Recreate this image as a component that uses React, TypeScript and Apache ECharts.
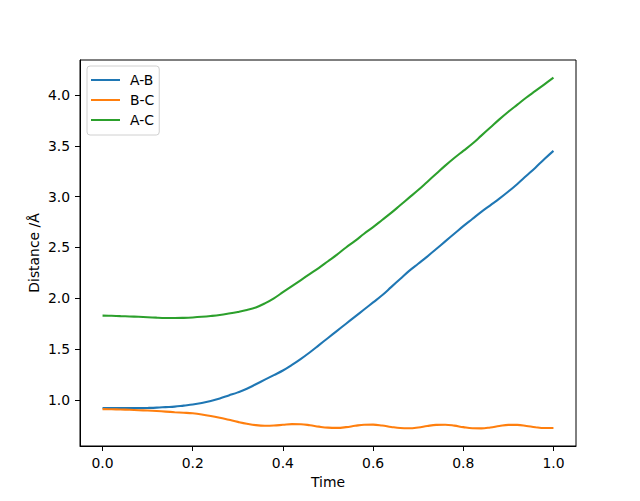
import React, { useEffect, useRef } from "react";
import * as echarts from "echarts";

const times = [
  0.0, 0.02, 0.04, 0.06, 0.08, 0.1, 0.12, 0.14, 0.16, 0.18, 0.2, 0.22, 0.24, 0.26, 0.28, 0.3, 0.32,
  0.34, 0.36, 0.38, 0.4, 0.42, 0.44, 0.46, 0.48, 0.5, 0.52, 0.54, 0.56, 0.58, 0.6, 0.62, 0.64, 0.66,
  0.68, 0.7, 0.72, 0.74, 0.76, 0.78, 0.8, 0.82, 0.84, 0.86, 0.88, 0.9, 0.92, 0.94, 0.96, 0.98, 1.0,
];

const abValues = [
  0.92, 0.92, 0.92, 0.92, 0.92, 0.922, 0.925, 0.93, 0.935, 0.945, 0.955, 0.97, 0.99, 1.015, 1.045,
  1.075, 1.11, 1.155, 1.2, 1.245, 1.29, 1.345, 1.405, 1.47, 1.54, 1.61, 1.68, 1.75, 1.82, 1.89,
  1.96, 2.03, 2.11, 2.19, 2.27, 2.34, 2.41, 2.485, 2.56, 2.635, 2.71, 2.78, 2.85, 2.915, 2.98, 3.05,
  3.125, 3.205, 3.285, 3.37, 3.45,
];

const bcValues = [
  0.91, 0.909, 0.907, 0.904, 0.9, 0.896, 0.891, 0.886, 0.88, 0.875, 0.869, 0.858, 0.843, 0.825,
  0.805, 0.785, 0.767, 0.753, 0.747, 0.749, 0.756, 0.763, 0.762, 0.752, 0.738, 0.728, 0.726, 0.733,
  0.746, 0.757, 0.758, 0.749, 0.735, 0.724, 0.722, 0.73, 0.744, 0.755, 0.757, 0.748, 0.733, 0.722,
  0.721, 0.73, 0.744, 0.755, 0.755, 0.745, 0.732, 0.724, 0.725,
];

const acValues = [
  1.83, 1.828, 1.825, 1.822, 1.818, 1.814, 1.81, 1.807, 1.806, 1.808, 1.812, 1.818, 1.826, 1.836,
  1.85, 1.866, 1.885, 1.91, 1.95, 2.0, 2.06, 2.12, 2.18, 2.24, 2.3, 2.365, 2.43, 2.5, 2.565, 2.635,
  2.7, 2.77, 2.84, 2.915, 2.99, 3.065, 3.145, 3.225, 3.305, 3.38, 3.45, 3.52, 3.6, 3.68, 3.76, 3.835,
  3.905, 3.975, 4.04, 4.105, 4.17,
];

const seriesNames = ["A-B", "B-C", "A-C"];
const seriesColors = ["#1f77b4", "#ff7f0e", "#2ca02c"];
const xTicks = [0.0, 0.2, 0.4, 0.6, 0.8, 1.0];
const yTicks = [1.0, 1.5, 2.0, 2.5, 3.0, 3.5, 4.0];

const FONT = "DejaVu Sans";
const FS = 13.9;

export default function App() {
  const ref = useRef<HTMLDivElement>(null);

  useEffect(() => {
    if (!ref.current) return;
    const chart = echarts.init(ref.current, undefined, { renderer: "svg" });
    const allValues = [abValues, bcValues, acValues];
    const series = allValues.map((vals, i) => ({
      name: seriesNames[i],
      type: "line",
      data: times.map((t, j) => [t, vals[j]]),
      smooth: 0.4,
      symbol: "none",
      lineStyle: { color: seriesColors[i], width: 2.08 },
      itemStyle: { color: seriesColors[i] },
    }));
    chart.setOption({
      animation: false,
      backgroundColor: "#ffffff",
      textStyle: { fontFamily: FONT },
      grid: {
        left: 80,
        right: 64,
        top: 60,
        bottom: 55,
        show: true,
        borderColor: "#000",
        borderWidth: 1,
        outerBoundsMode: "none",
      },
      legend: {
        orient: "vertical",
        left: 87,
        top: 66,
        data: seriesNames.map((n) => ({ name: n, icon: "rect" })),
        itemWidth: 29,
        itemHeight: 2,
        itemGap: 4,
        padding: [6, 5, 7, 4],
        backgroundColor: "rgba(255,255,255,0.8)",
        borderColor: "#d0d0d0",
        borderWidth: 1,
        borderRadius: 3,
        textStyle: {
          fontFamily: FONT,
          fontSize: FS,
          color: "#000",
          padding: [0, 0, 0, 5],
          lineHeight: 16,
        },
      },
      xAxis: {
        type: "value",
        min: -0.05,
        max: 1.05,
        name: "Time",
        nameLocation: "middle",
        nameGap: 29,
        nameMoveOverlap: false,
        nameTextStyle: { fontFamily: FONT, fontSize: FS, color: "#000" },
        axisLine: { show: true, onZero: false, lineStyle: { color: "#000", width: 1 } },
        axisTick: {
          show: true,
          length: 5,
          customValues: xTicks,
          lineStyle: { color: "#000", width: 1 },
        },
        axisLabel: {
          customValues: xTicks,
          margin: 10,
          fontFamily: FONT,
          fontSize: FS,
          color: "#000",
          formatter: (v: number) => v.toFixed(1),
        },
        splitLine: { show: false },
      },
      yAxis: {
        type: "value",
        min: 0.5476,
        max: 4.344,
        name: "Distance /Å",
        nameLocation: "middle",
        nameGap: 39,
        nameMoveOverlap: false,
        nameRotate: 90,
        nameTextStyle: { fontFamily: FONT, fontSize: FS, color: "#000" },
        axisLine: { show: true, onZero: false, lineStyle: { color: "#000", width: 1 } },
        axisTick: {
          show: true,
          length: 5,
          customValues: yTicks,
          lineStyle: { color: "#000", width: 1 },
        },
        axisLabel: {
          customValues: yTicks,
          margin: 10,
          fontFamily: FONT,
          fontSize: FS,
          color: "#000",
          formatter: (v: number) => v.toFixed(1),
        },
        splitLine: { show: false },
      },
      series,
    });
    return () => chart.dispose();
  }, []);

  return (
    <div
      ref={ref}
      style={{ position: "fixed", left: 0, top: 0, width: 640, height: 501, background: "#fff" }}
    />
  );
}
